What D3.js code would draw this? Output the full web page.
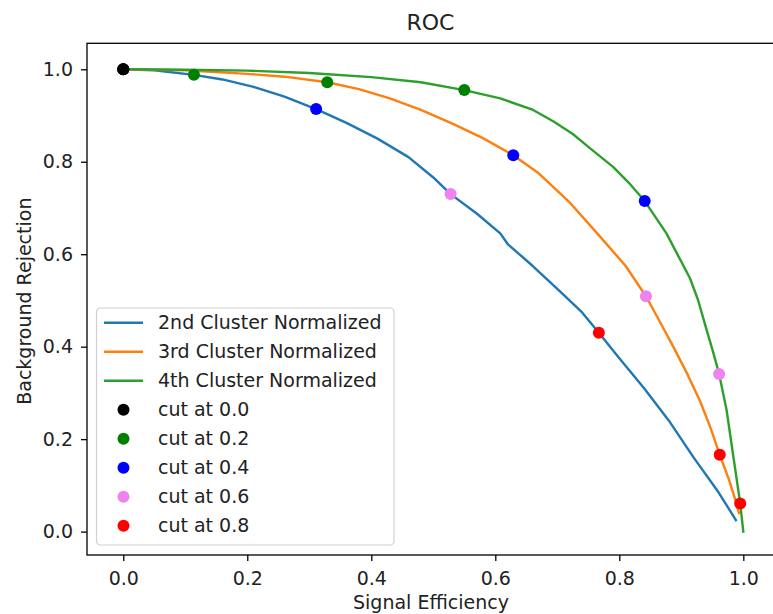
<!DOCTYPE html>
<html>
<head>
<meta charset="utf-8">
<script src="https://cdn.jsdelivr.net/npm/d3@7"></script>
<style>
    body { margin: 0; background: #fff; }
    svg { display: block; font-family: "DejaVu Sans", sans-serif; }
</style>
</head>
<body>
<svg id="chart" width="773" height="614"></svg>
<script>
// ROC curves: [signal efficiency, background rejection]
const cluster2 = [
    [0.000, 1.000], [0.050, 0.998], [0.114, 0.988], [0.160, 0.978], [0.210, 0.962],
    [0.260, 0.941], [0.311, 0.914], [0.360, 0.884], [0.410, 0.850], [0.460, 0.810],
    [0.500, 0.766], [0.528, 0.730], [0.570, 0.688], [0.608, 0.645], [0.620, 0.622],
    [0.660, 0.575], [0.700, 0.525], [0.740, 0.474], [0.767, 0.430], [0.800, 0.375],
    [0.840, 0.310], [0.880, 0.240], [0.920, 0.160], [0.960, 0.085], [0.988, 0.025]
];
const cluster3 = [
    [0.000, 1.000], [0.100, 0.998], [0.200, 0.990], [0.260, 0.984], [0.329, 0.972],
    [0.380, 0.957], [0.430, 0.937], [0.480, 0.912], [0.530, 0.883], [0.580, 0.851],
    [0.629, 0.814], [0.670, 0.775], [0.720, 0.712], [0.769, 0.638], [0.810, 0.575],
    [0.843, 0.509], [0.865, 0.455], [0.887, 0.400], [0.910, 0.340], [0.930, 0.283],
    [0.947, 0.225], [0.962, 0.166], [0.977, 0.112], [0.987, 0.069], [0.993, 0.040]
];
const cluster4 = [
    [0.000, 1.000], [0.100, 0.999], [0.200, 0.997], [0.300, 0.992], [0.400, 0.983],
    [0.480, 0.972], [0.550, 0.955], [0.608, 0.937], [0.661, 0.912], [0.694, 0.887],
    [0.725, 0.860], [0.753, 0.829], [0.790, 0.789], [0.815, 0.755], [0.841, 0.715],
    [0.876, 0.645], [0.914, 0.548], [0.927, 0.501], [0.940, 0.440], [0.951, 0.390],
    [0.961, 0.341], [0.973, 0.263], [0.984, 0.162], [0.995, 0.061], [1.000, 0.000]
];

const seriesNames = ['2nd Cluster Normalized', '3rd Cluster Normalized', '4th Cluster Normalized'];
const seriesColors = ['#1f77b4', '#ff7f0e', '#2ca02c'];

// working points for each cut, one per curve (2nd, 3rd, 4th)
const cutLabels = ['cut at 0.0', 'cut at 0.2', 'cut at 0.4', 'cut at 0.6', 'cut at 0.8'];
const cutColors = ['black', 'green', 'blue', 'violet', 'red'];
const cutPoints = [
    [[0.000, 1.000], [0.000, 1.000], [0.000, 1.000]],
    [[0.114, 0.988], [0.329, 0.972], [0.550, 0.955]],
    [[0.311, 0.914], [0.629, 0.814], [0.841, 0.715]],
    [[0.528, 0.730], [0.843, 0.509], [0.961, 0.341]],
    [[0.767, 0.430], [0.962, 0.166], [0.995, 0.061]]
];

const xTicks = [0.0, 0.2, 0.4, 0.6, 0.8, 1.0];
const yTicks = [0.0, 0.2, 0.4, 0.6, 0.8, 1.0];

const svg = d3.select('#chart');
const plot = { left: 87, right: 775, top: 43.3, bottom: 555 };
const fontSize = '19px';

const x = d3.scaleLinear().domain([-0.0585, 1.0511]).range([plot.left, plot.right]);
const y = d3.scaleLinear().domain([-0.0506, 1.0562]).range([plot.bottom, plot.top]);

svg.append('clipPath').attr('id', 'clip')
    .append('rect')
    .attr('x', plot.left).attr('y', plot.top)
    .attr('width', plot.right - plot.left).attr('height', plot.bottom - plot.top);

const line = d3.line().x((d) => x(d[0])).y((d) => y(d[1]));

const g = svg.append('g').attr('clip-path', 'url(#clip)');

[cluster2, cluster3, cluster4].forEach((data, i) => {
    g.append('path')
        .datum(data)
        .attr('fill', 'none')
        .attr('stroke', seriesColors[i])
        .attr('stroke-width', 2.4)
        .attr('stroke-linejoin', 'round')
        .attr('stroke-linecap', 'square')
        .attr('d', line);
});

cutPoints.forEach((pts, i) => {
    g.selectAll(null)
        .data(pts)
        .enter()
        .append('circle')
        .attr('cx', (d) => x(d[0]))
        .attr('cy', (d) => y(d[1]))
        .attr('r', 6)
        .attr('fill', cutColors[i]);
});

// axes
const xAxis = svg.append('g')
    .attr('transform', `translate(0,${plot.bottom})`)
    .call(d3.axisBottom(x).tickValues(xTicks).tickFormat(d3.format('.1f')).tickSize(6).tickPadding(6));
const yAxis = svg.append('g')
    .attr('transform', `translate(${plot.left},0)`)
    .call(d3.axisLeft(y).tickValues(yTicks).tickFormat(d3.format('.1f')).tickSize(6).tickPadding(8));

[xAxis, yAxis].forEach((ax) => {
    ax.select('.domain').remove();
    ax.selectAll('line').attr('stroke', '#000').attr('stroke-width', 1.3);
    ax.selectAll('text').attr('fill', '#222').style('font-size', fontSize).style('font-family', '"DejaVu Sans", sans-serif');
});
xAxis.selectAll('text').attr('dy', '0.95em');

svg.append('rect')
    .attr('x', plot.left).attr('y', plot.top)
    .attr('width', plot.right - plot.left).attr('height', plot.bottom - plot.top)
    .attr('fill', 'none')
    .attr('stroke', '#000')
    .attr('stroke-width', 1.3);

// titles
svg.append('text')
    .attr('x', (plot.left + plot.right) / 2 - 0.5)
    .attr('y', 29.5)
    .attr('text-anchor', 'middle')
    .attr('fill', '#222')
    .style('font-size', '22px')
    .text('ROC');

svg.append('text')
    .attr('x', (plot.left + plot.right) / 2)
    .attr('y', 609)
    .attr('text-anchor', 'middle')
    .attr('fill', '#222')
    .style('font-size', fontSize)
    .text('Signal Efficiency');

svg.append('text')
    .attr('transform', `translate(31,${(plot.top + plot.bottom) / 2 + 2}) rotate(-90)`)
    .attr('text-anchor', 'middle')
    .attr('fill', '#222')
    .style('font-size', fontSize)
    .text('Background Rejection');

// legend
const legend = svg.append('g').attr('transform', 'translate(96.5,308)');
legend.append('rect')
    .attr('width', 297.5).attr('height', 237)
    .attr('rx', 4)
    .attr('fill', '#fff').attr('fill-opacity', 0.8)
    .attr('stroke', '#d0d0d0').attr('stroke-width', 1.2);

const rowH = 29;
seriesNames.forEach((name, i) => {
    const ry = 14.7 + i * rowH;
    legend.append('line')
        .attr('x1', 7.5).attr('x2', 46.5)
        .attr('y1', ry).attr('y2', ry)
        .attr('stroke', seriesColors[i]).attr('stroke-width', 2.4);
    legend.append('text')
        .attr('x', 61.5).attr('y', ry).attr('dy', '0.35em')
        .attr('fill', '#222').style('font-size', fontSize)
        .text(name);
});
cutLabels.forEach((name, i) => {
    const ry = 14.7 + (i + 3) * rowH;
    legend.append('circle')
        .attr('cx', 27).attr('cy', ry).attr('r', 6)
        .attr('fill', cutColors[i]);
    legend.append('text')
        .attr('x', 61.5).attr('y', ry).attr('dy', '0.35em')
        .attr('fill', '#222').style('font-size', fontSize)
        .text(name);
});
</script>
</body>
</html>
